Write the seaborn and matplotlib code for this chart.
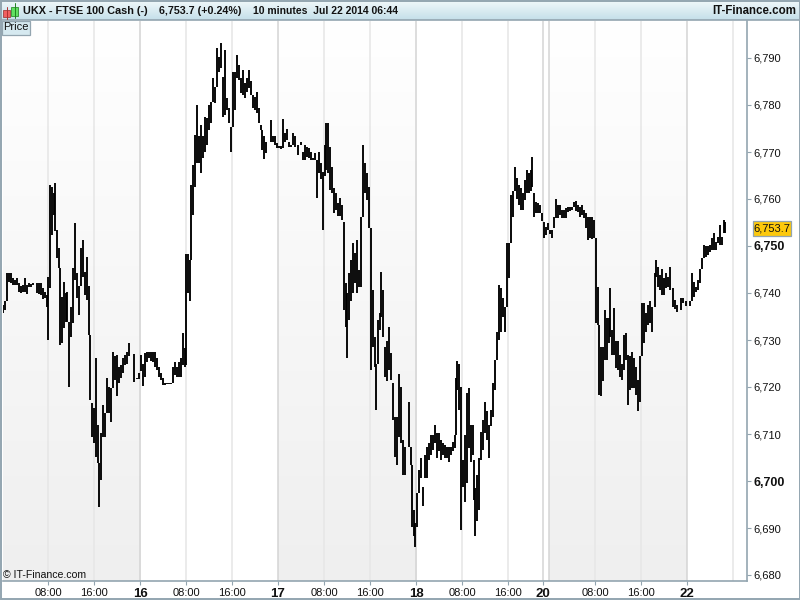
import numpy as np
import pandas as pd
import matplotlib
matplotlib.use("Agg")
import matplotlib.pyplot as plt
import seaborn as sns
from matplotlib.colors import LinearSegmentedColormap
from matplotlib.patches import Rectangle

# ---- Bars, one small block per session (slot, high, low) ----
jul15_slot = [3,5,7,9,11,13,15,17,19,21,23,25,27,29,31,33,37,39,41,43,45,47,48,50,52,54,55,57,59,60,62,64,66,67,69,71,73,75,77,79,81,83,85,87,89,90,92,94,96,98,99,101,103,105,107,109,111,113,115,117,119,121,123,125,127,129,134,137,139]
jul15_high = [6737.5,6738.2,6744.2,6744.3,6744.2,6743.1,6742.8,6743.1,6742.1,6741.4,6741.7,6743.1,6741.7,6742.1,6741.9,6742.1,6742.2,6742.2,6742.1,6741.0,6740.3,6739.6,6743.5,6763.0,6762.6,6761.2,6763.3,6753.4,6749.5,6745.3,6739.2,6742.4,6739.9,6740.3,6733.9,6737.1,6745.3,6754.8,6744.2,6741.4,6749.5,6751.3,6744.5,6747.7,6741.4,6731.1,6716.5,6715.5,6726.1,6711.9,6703.8,6710.2,6716.2,6714.4,6721.9,6720.1,6719.7,6727.5,6726.5,6726.8,6724.3,6724.7,6726.1,6726.8,6727.5,6729.3,6727.0,6721.9,6722.9]
jul15_low = [6735.7,6736.4,6738.2,6742.4,6742.1,6741.7,6741.7,6741.7,6740.3,6740.1,6740.3,6740.3,6739.8,6741.2,6741.2,6741.8,6740.1,6739.8,6739.6,6738.7,6738.9,6737.1,6730.0,6741.0,6752.3,6756.6,6753.1,6747.4,6745.3,6728.9,6729.3,6732.5,6733.9,6733.9,6720.1,6730.7,6733.6,6742.8,6738.9,6735.3,6741.4,6743.5,6739.6,6738.5,6731.1,6717.2,6709.4,6708.0,6705.2,6703.8,6694.4,6700.2,6709.4,6709.4,6714.4,6714.4,6712.6,6719.7,6721.5,6718.0,6720.8,6721.9,6722.9,6724.7,6725.0,6726.5,6721.1,6721.6,6721.6]

jul16_slot = [141,143,145,147,149,151,153,155,157,159,161,163,165,167,169,171,173,175,177,179,181,183,185,186,188,190,191,193,195,197,199,201,203,205,207,209,211,213,215,217,219,221,223,225,227,229,231,233,235,237,239,241,243,245,247,249,251,253,255,257,259,261,262,264,266,271,273,275,277]
jul16_high = [6726.8,6725.0,6727.2,6727.5,6727.5,6727.5,6727.5,6727.5,6726.1,6724.3,6722.9,6721.9,6720.8,6720.8,6720.8,6720.8,6724.3,6725.4,6724.3,6725.4,6726.1,6731.4,6728.2,6748.4,6748.4,6747.0,6763.0,6767.2,6773.6,6780.0,6773.3,6775.8,6773.3,6777.5,6777.2,6780.0,6780.7,6785.7,6783.9,6792.1,6790.3,6793.1,6786.0,6791.7,6781.4,6779.3,6775.4,6787.1,6787.1,6790.6,6788.5,6785.7,6787.5,6784.6,6785.7,6787.5,6785.0,6782.1,6781.8,6782.8,6779.3,6775.8,6774.7,6773.3,6772.2,6776.8,6773.3,6773.4,6771.9]
jul16_low = [6723.3,6720.2,6722.2,6725.4,6726.1,6725.6,6725.4,6724.3,6723.6,6722.2,6721.5,6720.4,6720.4,6720.6,6720.6,6720.6,6720.8,6722.6,6722.2,6722.2,6722.1,6724.7,6724.3,6724.7,6739.9,6738.2,6747.0,6756.6,6762.6,6767.6,6767.6,6765.6,6768.7,6770.1,6771.5,6774.7,6776.1,6780.7,6780.5,6783.9,6787.1,6787.8,6777.5,6777.9,6778.9,6776.1,6770.1,6775.4,6778.9,6785.7,6785.3,6782.5,6782.1,6781.4,6782.8,6783.6,6782.1,6779.3,6778.9,6778.2,6776.1,6774.7,6770.4,6768.5,6769.7,6772.2,6772.2,6771.5,6770.8]

jul17_slot = [279,281,283,285,287,289,291,293,295,298,301,303,305,307,309,311,313,315,317,319,321,323,325,326,328,330,332,334,336,338,340,342,344,346,347,349,351,353,355,357,359,361,363,365,367,369,371,373,375,376,378,380,381,383,385,387,389,391,393,395,397,399,401,403,405,409,411,412,414,415]
jul17_high = [6771.3,6771.3,6777.0,6774.0,6775.0,6772.2,6771.5,6774.1,6773.3,6771.5,6772.2,6770.1,6771.5,6771.1,6770.8,6770.1,6768.7,6769.7,6768.3,6770.1,6767.6,6765.8,6771.5,6776.1,6776.1,6771.1,6766.9,6762.3,6761.2,6759.1,6760.2,6758.7,6755.2,6742.1,6739.9,6744.2,6747.0,6750.6,6748.5,6751.3,6744.9,6756.2,6771.5,6767.6,6765.5,6762.6,6753.8,6740.6,6730.7,6725.0,6734.3,6735.7,6744.5,6740.6,6728.6,6729.7,6732.8,6727.2,6720.8,6713.7,6713.7,6722.8,6720.1,6708.7,6707.3,6716.9,6707.3,6703.4,6693.8,6691.0]
jul17_low = [6770.8,6770.6,6770.8,6772.2,6772.6,6771.1,6771.1,6771.5,6771.1,6769.4,6771.5,6768.3,6768.3,6769.0,6768.7,6768.3,6768.2,6768.2,6760.2,6765.5,6764.2,6753.4,6764.8,6766.2,6765.5,6761.9,6761.2,6757.0,6757.7,6756.3,6756.3,6755.5,6736.4,6732.8,6726.1,6734.3,6738.2,6739.9,6742.1,6739.9,6741.3,6741.3,6756.2,6761.2,6759.8,6753.8,6723.6,6728.6,6724.3,6715.1,6725.0,6732.1,6735.0,6730.7,6722.2,6721.2,6723.6,6721.5,6713.0,6705.2,6703.4,6709.4,6708.0,6701.3,6701.3,6707.3,6703.4,6690.3,6688.2,6686.0]

jul18_slot = [417,419,421,423,425,427,429,431,433,435,437,439,441,443,445,447,449,451,453,455,456,457,459,461,463,465,467,469,471,473,474,475,477,479,481,483,485,487,489,491,493,495,497,499,501,503,505,507,509,511,513,515,517,519,521,523,525,527,529,531,532,534,536,538,540,542,544]
jul18_high = [6697.4,6702.4,6704.8,6698.8,6705.5,6707.3,6708.0,6709.8,6709.8,6711.9,6710.2,6710.2,6708.7,6708.0,6707.7,6707.3,6707.3,6707.3,6708.4,6709.8,6721.9,6725.6,6725.0,6720.1,6704.5,6709.8,6718.7,6719.7,6711.9,6711.9,6704.5,6698.5,6701.3,6704.8,6710.5,6713.0,6716.9,6714.8,6711.9,6715.1,6720.8,6725.7,6731.8,6741.7,6741.0,6738.9,6737.1,6750.6,6750.6,6760.8,6761.6,6766.9,6764.4,6763.0,6762.3,6761.2,6764.0,6766.2,6765.5,6766.2,6768.9,6761.2,6759.4,6759.1,6758.7,6757.0,6755.2]
jul18_low = [6690.3,6697.4,6700.6,6694.6,6700.6,6700.6,6704.5,6705.5,6706.6,6708.0,6704.8,6706.3,6704.5,6705.5,6704.8,6704.8,6704.1,6705.5,6706.3,6707.0,6709.8,6719.4,6715.1,6689.6,6698.8,6695.6,6699.5,6707.0,6704.1,6705.5,6696.0,6688.2,6691.4,6693.8,6704.5,6706.6,6710.2,6708.7,6704.8,6711.6,6713.7,6719.4,6725.7,6730.0,6731.8,6735.0,6731.8,6737.1,6743.1,6750.6,6756.2,6761.6,6760.1,6758.7,6757.7,6757.7,6759.8,6761.3,6761.2,6761.6,6762.6,6756.2,6757.0,6757.0,6757.0,6755.4,6751.8]

jul21_slot = [546,548,550,552,554,556,558,560,562,564,566,568,570,572,574,576,578,580,582,584,586,588,590,592,594,596,598,599,601,603,605,607,609,610,612,614,616,618,620,622,624,626,628,630,632,634,636,638,640,642,644,646,648,650,652,655,656,658,660,662,664,666,668,670,673,675,677,681,683,686]
jul21_high = [6754.1,6754.8,6753.4,6753.4,6756.2,6760.1,6758.7,6758.7,6757.7,6757.7,6758.0,6758.2,6758.4,6758.4,6759.4,6759.6,6758.7,6758.4,6758.7,6757.7,6757.0,6756.2,6756.2,6756.2,6755.5,6751.6,6741.3,6733.2,6728.6,6728.6,6736.4,6734.6,6734.6,6741.0,6732.1,6736.8,6729.7,6729.7,6726.8,6725.0,6731.1,6731.4,6726.8,6726.5,6727.5,6726.1,6724.3,6721.5,6726.5,6737.8,6737.8,6735.7,6737.5,6738.2,6737.1,6744.2,6747.0,6745.6,6743.8,6745.2,6743.1,6744.2,6743.5,6745.5,6741.0,6738.5,6737.5,6738.9,6738.9,6738.2]
jul21_low = [6752.3,6753.4,6752.6,6751.6,6753.8,6755.9,6755.9,6756.6,6755.9,6755.9,6755.9,6757.3,6757.5,6757.7,6758.4,6757.5,6757.3,6756.2,6756.6,6755.9,6753.8,6751.3,6751.6,6751.4,6751.6,6733.6,6733.2,6718.3,6718.0,6721.2,6725.7,6725.7,6729.3,6730.7,6726.8,6726.8,6724.0,6723.6,6722.2,6721.5,6723.6,6725.7,6716.2,6719.4,6719.7,6719.7,6718.3,6714.8,6716.9,6726.5,6729.3,6731.8,6733.2,6733.6,6731.8,6737.1,6743.5,6741.3,6740.6,6739.6,6739.6,6741.0,6741.3,6740.6,6737.1,6736.7,6736.0,6736.4,6737.8,6737.2]

jul22_slot = [690,692,694,696,698,700,702,704,706,708,710,712,714,716,718,720,722,724,725]
jul22_high = [6738.2,6744.2,6742.4,6741.3,6742.8,6745.2,6747.4,6750.2,6749.9,6749.9,6750.2,6751.6,6752.7,6750.9,6752.0,6754.5,6752.0,6755.5,6755.2]
jul22_low = [6737.2,6738.2,6739.2,6740.3,6740.6,6742.1,6745.2,6747.4,6747.7,6748.1,6748.8,6749.1,6749.1,6749.1,6750.6,6750.2,6750.2,6752.7,6752.7]

# ---- Axis values ----
price_ticks = [6680,6690,6700,6710,6720,6730,6740,6750,6760,6770,6780,6790]
bold_prices = [6700,6750]
x_tick_slots = [48,94,140,186,232,278,324,370,416,462,508,543,595,641,687]
x_tick_labels = ["08:00","16:00","16","08:00","16:00","17","08:00","16:00","18","08:00","16:00","20","08:00","16:00","22"]
extra_grid_slots = [549,733]
shaded_sessions = [(3,140),(278,416),(549,687)]
last_price = 6753.7

slots = jul15_slot + jul16_slot + jul17_slot + jul18_slot + jul21_slot + jul22_slot
highs = jul15_high + jul16_high + jul17_high + jul18_high + jul21_high + jul22_high
lows = jul15_low + jul16_low + jul17_low + jul18_low + jul21_low + jul22_low

bars = pd.DataFrame({"slot": slots, "high": highs, "low": lows})
bars_long = bars.melt(id_vars="slot", value_vars=["high", "low"], value_name="price")

# ---- Figure ----
sns.set_style("white")
plt.rcParams["font.family"] = ["Liberation Sans", "DejaVu Sans"]

BORDER = "#93a5b0"
W, H = 800, 600
fig = plt.figure(figsize=(8, 6), dpi=100, facecolor="white")
ax = fig.add_axes([3 / W, 1 - 581 / H, 744 / W, 560 / H])

# one slot is one pixel, 4.7 pixels per point of price
y_top = 6790 + (58 - 21) / 4.7
y_bottom = 6790 - (581 - 58) / 4.7

gray_fade = LinearSegmentedColormap.from_list("fade", ["#ffffff", "#efefef"])
gradient = np.linspace(0, 1, 256).reshape(-1, 1)
for start, end in shaded_sessions:
    ax.imshow(gradient, extent=(start, end, y_bottom, y_top), cmap=gray_fade,
              aspect="auto", zorder=0, vmin=0, vmax=1)

for pos, label in zip(x_tick_slots, x_tick_labels):
    ax.axvline(pos, color="#d4d4d4" if ":" not in label else "#e6e6e6", lw=1.1, zorder=1)
for pos in extra_grid_slots:
    ax.axvline(pos, color="#e6e6e6" if pos == 733 else "#d4d4d4", lw=1.1, zorder=1)

sns.lineplot(data=bars_long, x="slot", y="price", units="slot", estimator=None,
             color="black", linewidth=1.35, ax=ax, zorder=3, legend=False,
             solid_capstyle="butt")

ax.set_xlim(3, 747)
ax.set_ylim(y_bottom, y_top)
ax.set_xlabel("")
ax.set_ylabel("")

sns.despine(ax=ax, top=True, left=True, right=False, bottom=False)
for side in ["right", "bottom"]:
    ax.spines[side].set_color(BORDER)
    ax.spines[side].set_linewidth(1.2)

ax.yaxis.tick_right()
ax.set_yticks(price_ticks)
ax.set_yticklabels([f"{p:,}" for p in price_ticks])
ax.set_xticks(x_tick_slots)
ax.set_xticklabels(x_tick_labels)
ax.tick_params(axis="both", length=3.2, width=0.8, color=BORDER, labelsize=8,
               labelcolor="#111111", bottom=True, right=True)
ax.tick_params(axis="y", pad=1.5)
ax.tick_params(axis="x", pad=2)
for tick, p in zip(ax.get_yticklabels(), price_ticks):
    if p in bold_prices:
        tick.set_fontweight("bold")
        tick.set_fontsize(9)
for tick, label in zip(ax.get_xticklabels(), x_tick_labels):
    if ":" not in label:
        tick.set_fontweight("bold")
        tick.set_fontsize(9.5)

# ---- Overlay in pixel coordinates for the frame, header and small labels ----
over = fig.add_axes([0, 0, 1, 1], zorder=5)
over.patch.set_alpha(0)
over.axis("off")

header_fade = LinearSegmentedColormap.from_list("head", ["#f2f9fb", "#c4dfe9"])
over.imshow(gradient, extent=(0, W, 20, 0), cmap=header_fade, aspect="auto", vmin=0, vmax=1)
over.set_xlim(0, W)
over.set_ylim(H, 0)

over.plot([0, W], [20, 20], color=BORDER, lw=1.2)
over.add_patch(Rectangle((0.5, 0.5), W - 1, H - 2, fill=False, edgecolor=BORDER, lw=1.4))

# candle icon
over.plot([6.5, 6.5], [7, 19], color="#b03030", lw=0.7)
over.add_patch(Rectangle((3, 10), 7, 7, facecolor="#f06060", edgecolor="#a04040", lw=0.6))
over.plot([14.5, 14.5], [3, 18], color="#208020", lw=0.7)
over.add_patch(Rectangle((11, 7), 7, 9, facecolor="#60e060", edgecolor="#309030", lw=0.6))

title_kw = dict(fontweight="bold", va="center", color="#111111")
over.text(23, 11, "UKX - FTSE 100 Cash (-)", ha="left", fontsize=7.8, **title_kw)
over.text(159, 11, f"{last_price:,.1f} (+0.24%)", ha="left", fontsize=7.7, **title_kw)
over.text(253, 11, "10 minutes  Jul 22 2014 06:44", ha="left", fontsize=7.5, **title_kw)
over.text(796, 11, "IT-Finance.com", ha="right", fontsize=8.3, **title_kw)

# Price tag
over.add_patch(Rectangle((1.5, 21), 28, 13.5, facecolor="#d6e9f0", edgecolor=BORDER, lw=0.9))
over.text(3, 27.5, "Price", fontsize=8, va="center", ha="left", color="#111111")

# last price box
last_y = 58 + (6790 - last_price) * 4.7
over.add_patch(Rectangle((752.5, last_y - 7.5), 38, 15, facecolor="#fdc90c", edgecolor=BORDER, lw=0.9))
over.text(771.5, last_y, f"{last_price:,.1f}", fontsize=8, va="center", ha="center", color="#111111")

over.text(3, 575, "© IT-Finance.com", fontsize=7.6, va="center", ha="left", color="#111111")

fig.savefig("out.png", dpi=100)
